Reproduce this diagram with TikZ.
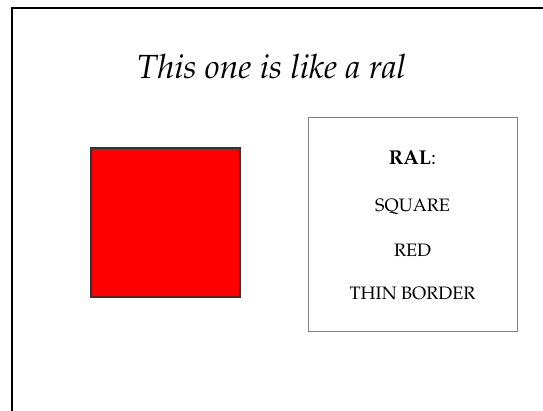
\documentclass[tikz,border=0pt]{standalone}
\usepackage[T1]{fontenc}
\usepackage{mathpazo}
\begin{document}
\begin{tikzpicture}[x=1pt,y=-1pt,
  frameline/.style={draw=black,line width=2pt},
  redsq/.style={draw=black!80,line width=1.3pt,fill=red},
  infobox/.style={draw=black!50,line width=1pt},
  boxtext/.style={font=\fontsize{18}{20}\selectfont,anchor=center,inner sep=0pt}]
\useasboundingbox (0,0) rectangle (543,411);
\fill[white] (0,0) rectangle (543,411);
\coordinate (ftl) at (12,8);
\coordinate (ftr) at (543,8);
\coordinate (fbl) at (12,411);
\draw[frameline] (ftr) -- (ftl) -- (fbl);
\node[inner sep=0pt,font=\fontsize{33.5}{36}\selectfont\itshape] (title) at (271.5,67) {This one is like a ral};
\path[redsq] (91,148) rectangle (240,297);
\node[inner sep=0pt] (square) at (165.5,222.5) {};
\path[infobox] (308,118) rectangle (517,331);
\node[inner sep=0pt] (box) at (412.5,224.5) {};
\node[boxtext,font=\fontsize{20}{22}\selectfont] (ral) at (412.5,158) {\textbf{RAL}:};
\node[boxtext] (sq) at (412.5,207) {SQUARE};
\node[boxtext] (red) at (412.5,250) {RED};
\node[boxtext] (thin) at (412.5,293) {THIN BORDER};
\end{tikzpicture}
\end{document}
